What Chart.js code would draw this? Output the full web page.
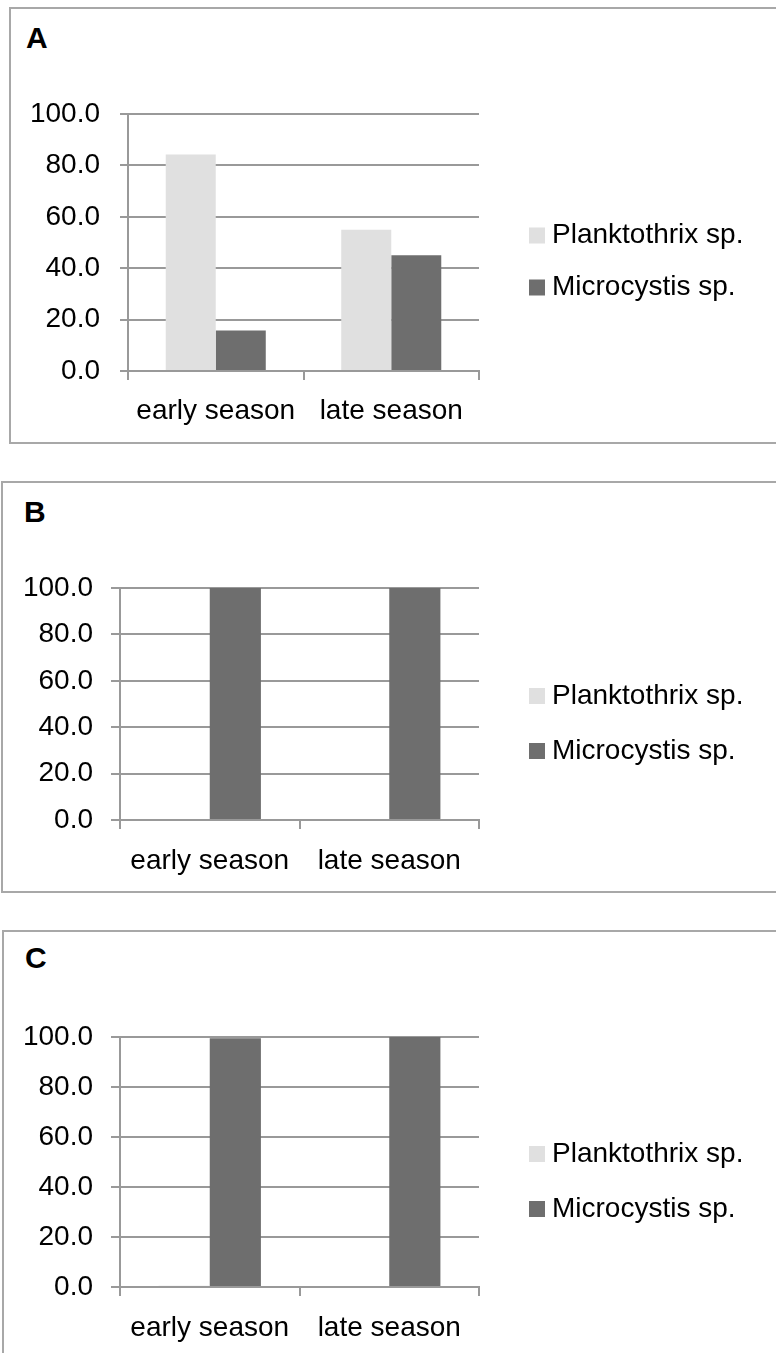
<!DOCTYPE html>
<html>
<head>
<meta charset="utf-8">
<title>Planktothrix / Microcystis</title>
<script src="https://cdn.jsdelivr.net/npm/chart.js@4.4.1/dist/chart.umd.min.js"></script>
<style>
  body {
    margin: 0;
    width: 776px;
    height: 1353px;
    overflow: hidden;
    position: relative;
    background: #fff;
    font-family: "Liberation Sans", Arial, sans-serif;
  }
  .box {
    position: absolute;
    border: 2px solid #a8a8a8;
    box-sizing: border-box;
  }
  .letter {
    position: absolute;
    font-weight: bold;
    font-size: 30px;
    line-height: 30px;
    color: #000;
  }
  .chart {
    position: absolute;
    left: 0;
    width: 776px;
  }
</style>
</head>
<body>

<div class="box" style="left:9px; top:7px; width:800px; height:437px;"></div>
<div class="box" style="left:1px; top:481px; width:800px; height:412px;"></div>
<div class="box" style="left:2px; top:930px; width:800px; height:500px;"></div>

<div class="letter" style="left:26px; top:23px;">A</div>
<div class="letter" style="left:24px; top:497px;">B</div>
<div class="letter" style="left:25px; top:943px;">C</div>

<div class="chart" style="top:0px; height:450px;"><canvas id="chartA"></canvas></div>
<div class="chart" style="top:450px; height:450px;"><canvas id="chartB"></canvas></div>
<div class="chart" style="top:900px; height:453px;"><canvas id="chartC"></canvas></div>

<script>
// データ
const categories = ["early season", "late season"];
const seriesNames = ["Planktothrix sp.", "Microcystis sp."];
const yTickValues = [0, 20, 40, 60, 80, 100];

const planktothrixA = [84.2, 55.0];
const microcystisA = [15.8, 45.0];

const planktothrixB = [0, 0];
const microcystisB = [100, 100];

const planktothrixC = [0.5, 0];
const microcystisC = [99.5, 100];

// 色
const lightGrey = "#e0e0e0";
const darkGrey = "#6e6e6e";
const gridGrey = "#999999";
const textColor = "#000000";

Chart.defaults.font.family = '"Liberation Sans", Arial, sans-serif';
Chart.defaults.font.size = 28;
Chart.defaults.color = textColor;

// 右側の凡例（自前で描く）
const sideLegend = {
  id: "sideLegend",
  afterDraw(chart, args, opts) {
    const ctx = chart.ctx;
    ctx.save();
    ctx.font = "28px " + Chart.defaults.font.family;
    ctx.textBaseline = "middle";
    ctx.textAlign = "left";
    chart.data.datasets.forEach((ds, i) => {
      const y = opts.rows[i];
      ctx.fillStyle = ds.backgroundColor;
      ctx.fillRect(opts.x, y - 8, 16, 16);
      ctx.fillStyle = textColor;
      ctx.fillText(ds.label, opts.x + 23, y);
    });
    ctx.restore();
  },
};

// グラフを描画
function drawPanel(canvasId, planktothrix, microcystis, lay) {
  const ctx = document.getElementById(canvasId).getContext("2d");
  return new Chart(ctx, {
    type: "bar",
    data: {
      labels: categories,
      datasets: [
        { label: seriesNames[0], data: planktothrix, backgroundColor: lightGrey },
        { label: seriesNames[1], data: microcystis, backgroundColor: darkGrey },
      ],
    },
    plugins: [sideLegend],
    options: {
      responsive: true,
      maintainAspectRatio: false,
      animation: false,
      events: [],
      datasets: {
        bar: { categoryPercentage: 0.57, barPercentage: 1.0, borderWidth: 0 },
      },
      layout: {
        padding: { left: 0, right: lay.right, top: lay.top, bottom: lay.bottom },
      },
      plugins: {
        legend: { display: false },
        tooltip: { enabled: false },
        sideLegend: { x: 529, rows: lay.legendRows },
      },
      scales: {
        x: {
          grid: {
            drawOnChartArea: false,
            drawTicks: true,
            tickLength: 9,
            color: gridGrey,
            lineWidth: 2,
          },
          border: { display: true, color: gridGrey, width: 2 },
          ticks: { padding: lay.xPad, maxRotation: 0, autoSkip: false },
          afterFit: (scale) => { scale.height = 60; },
        },
        y: {
          min: 0,
          max: 100,
          grid: { color: gridGrey, lineWidth: 2, tickLength: lay.yTick },
          border: { display: true, color: gridGrey, width: 2 },
          ticks: {
            padding: lay.yPad,
            callback: (v) => Number(v).toFixed(1),
          },
          afterBuildTicks: (scale) => {
            scale.ticks = yTickValues.map((v) => ({ value: v }));
          },
          afterFit: (scale) => { scale.width = lay.left; },
        },
      },
    },
  });
}

drawPanel("chartA", planktothrixA, microcystisA, {
  left: 128, right: 297, top: 114, bottom: 19,
  xPad: 14, yPad: 20, yTick: 8, legendRows: [235.5, 287.5],
});
drawPanel("chartB", planktothrixB, microcystisB, {
  left: 120, right: 297, top: 138, bottom: 20,
  xPad: 15, yPad: 18, yTick: 9, legendRows: [246, 301],
});
drawPanel("chartC", planktothrixC, microcystisC, {
  left: 120, right: 297, top: 137, bottom: 6,
  xPad: 15, yPad: 18, yTick: 9, legendRows: [254, 309],
});
</script>
</body>
</html>
